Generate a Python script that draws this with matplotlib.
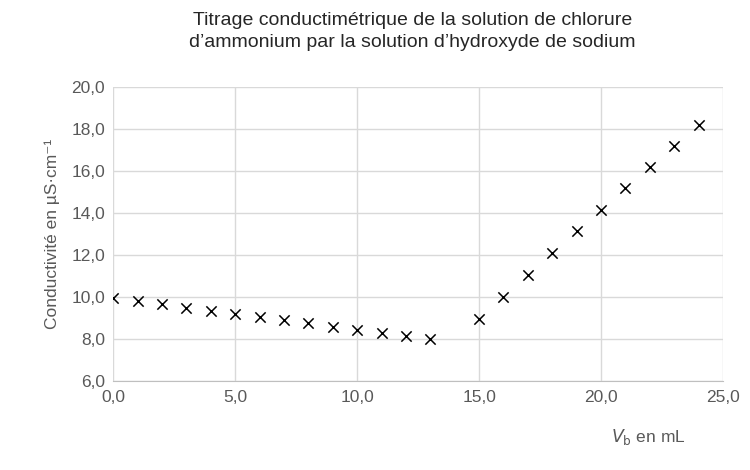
import matplotlib
matplotlib.use('Agg')
import matplotlib.pyplot as plt

volumes = [0, 1, 2, 3, 4, 5, 6, 7, 8, 9, 10, 11, 12, 13,
           15, 16, 17, 18, 19, 20, 21, 22, 23, 24]
conductivity = [9.95, 9.8, 9.65, 9.5, 9.35, 9.2, 9.05, 8.9, 8.75, 8.6, 8.45, 8.3, 8.15, 8.0,
                8.95, 10.0, 11.05, 12.1, 13.15, 14.15, 15.2, 16.2, 17.2, 18.2]
x_ticks = [0, 5, 10, 15, 20, 25]
y_ticks = [6, 8, 10, 12, 14, 16, 18, 20]

plt.rcParams['font.family'] = ['Liberation Sans', 'DejaVu Sans']
gray = '#595959'

fig = plt.figure(figsize=(7.5, 4.7), dpi=100)
ax = fig.add_axes([0.151, 0.189, 0.813, 0.626])
ax.scatter(volumes, conductivity, marker='x', color='black', s=55, linewidths=1.1, zorder=3)

ax.set_xlim(0, 25)
ax.set_ylim(6, 20)
ax.set_xticks(x_ticks)
ax.set_yticks(y_ticks)
ax.set_xticklabels([f'{v:.1f}'.replace('.', ',') for v in x_ticks])
ax.set_yticklabels([f'{v:.1f}'.replace('.', ',') for v in y_ticks])
ax.tick_params(length=0, labelsize=12.5, colors=gray, pad=6)
ax.grid(True, color='#d9d9d9', linewidth=1)
ax.set_axisbelow(True)
for name, sp in ax.spines.items():
    sp.set_visible(name == 'bottom')
ax.spines['bottom'].set_color('#bfbfbf')

ax.set_ylabel('Conductivité en µS·cm⁻¹', fontsize=12.5, color=gray, labelpad=8)
fig.text(0.865, 0.06, '$V_\\mathrm{b}$ en mL', fontsize=12.5, color=gray, ha='center')
fig.suptitle('Titrage conductimétrique de la solution de chlorure\n'
             'd’ammonium par la solution d’hydroxyde de sodium',
             fontsize=14, color='#262626', y=0.975, x=0.55, linespacing=1.4)

fig.savefig('out.png', dpi=100)
